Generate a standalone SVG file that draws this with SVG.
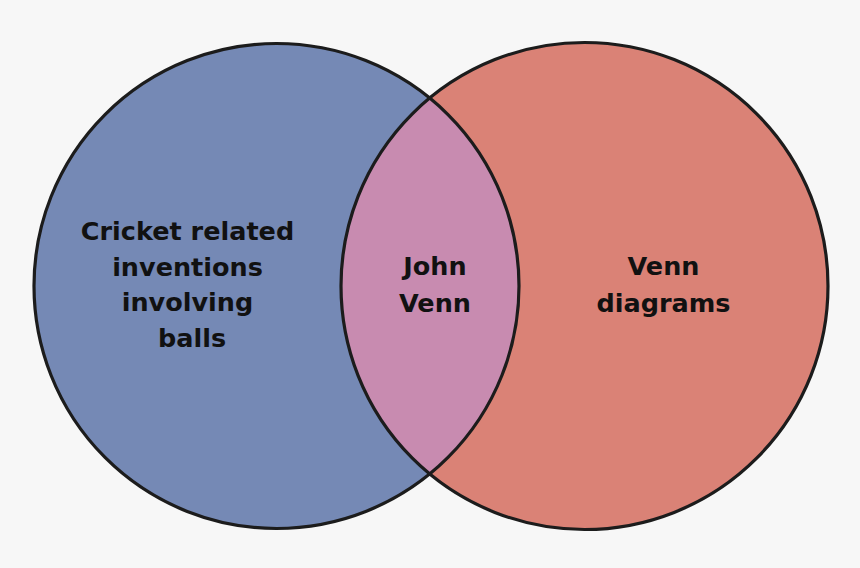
<svg xmlns="http://www.w3.org/2000/svg" width="860" height="568" viewBox="0 0 860 568">
  <style>
    .ring { fill: none; stroke: #1c1c1c; stroke-width: 3.2; }
    .lbl { font-family: "DejaVu Sans", "Liberation Sans", sans-serif; font-weight: bold; font-size: 25.5px; fill: #111; text-anchor: middle; }
  </style>
  <defs>
    <clipPath id="clipRight">
      <circle cx="584.5" cy="286" r="243.5"/>
    </clipPath>
  </defs>
  <rect x="0" y="0" width="860" height="568" fill="#f7f7f7"/>
  <g id="set-left">
    <circle cx="276.5" cy="286" r="242.5" fill="#7589b5"/>
  </g>
  <g id="set-right">
    <circle cx="584.5" cy="286" r="243.5" fill="#da8276"/>
  </g>
  <g id="intersection">
    <circle cx="276.5" cy="286" r="242.5" fill="#c88bb0" clip-path="url(#clipRight)"/>
  </g>
  <g id="outlines">
    <circle class="ring" cx="276.5" cy="286" r="242.5"/>
    <circle class="ring" cx="584.5" cy="286" r="243.5"/>
  </g>
  <g id="labels">
    <text class="lbl" x="187.5" y="240">Cricket related</text>
    <text class="lbl" x="187.5" y="276">inventions</text>
    <text class="lbl" x="187.5" y="311">involving</text>
    <text class="lbl" x="192" y="347">balls</text>
    <text class="lbl" x="435" y="275">John</text>
    <text class="lbl" x="435" y="312">Venn</text>
    <text class="lbl" x="663.5" y="275">Venn</text>
    <text class="lbl" x="663.5" y="312">diagrams</text>
  </g>
</svg>
